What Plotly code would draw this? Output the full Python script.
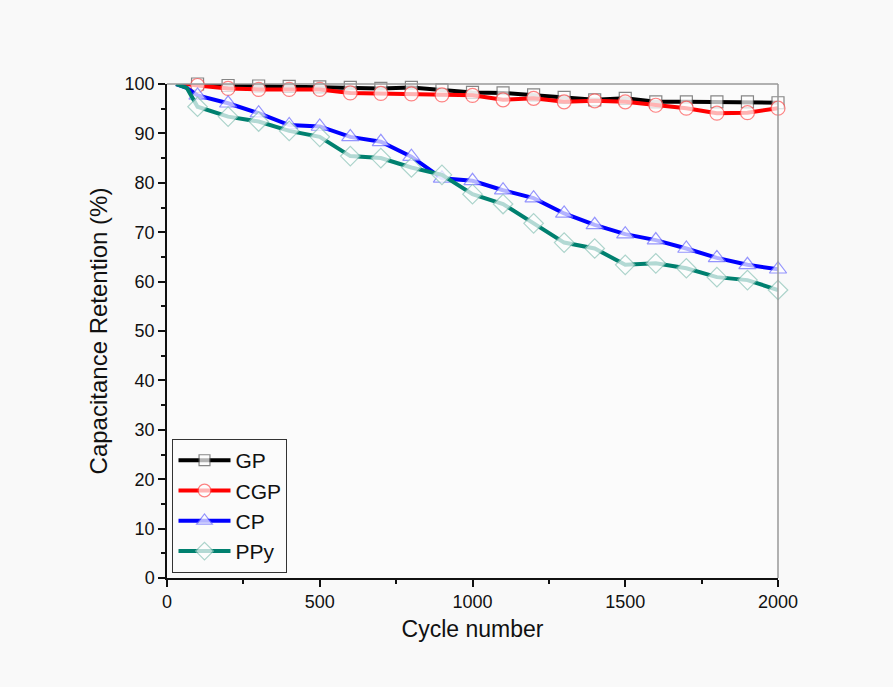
import plotly.graph_objects as go

# Cycle numbers (first two points are unmarked start-up readings)
cycles = [30, 65, 100, 200, 300, 400, 500, 600, 700, 800, 900, 1000,
          1100, 1200, 1300, 1400, 1500, 1600, 1700, 1800, 1900, 2000]

# Capacitance retention (%) for each electrode
gp = [100, 100, 100, 99.7, 99.6, 99.5, 99.4, 99.3, 99.1, 99.3, 98.8, 98.3,
      98.2, 97.8, 97.3, 96.8, 97.1, 96.4, 96.4, 96.4, 96.4, 96.2]
cgp = [100, 100, 99.7, 99.1, 98.9, 98.9, 98.9, 98.2, 98.1, 98.0, 97.8, 97.7,
       96.8, 97.1, 96.4, 96.6, 96.4, 95.7, 95.1, 94.1, 94.2, 95.1]
cp = [100, 99.2, 97.7, 96.1, 94.1, 91.7, 91.4, 89.3, 88.3, 85.3, 80.9, 80.4,
      78.5, 76.9, 73.8, 71.5, 69.6, 68.4, 66.7, 64.8, 63.4, 62.5]
ppy = [100, 99.2, 95.4, 93.4, 92.4, 90.5, 89.3, 85.4, 85.0, 83.1, 81.6, 77.7,
       75.7, 71.8, 67.9, 66.7, 63.4, 63.7, 62.7, 60.9, 60.3, 58.3]

names = ["GP", "CGP", "CP", "PPy"]
values = [gp, cgp, cp, ppy]
line_colors = ["#000000", "#ff0000", "#0000ff", "#00806f"]
marker_edges = ["#555555", "#ff5050", "#6a6aff", "#8cc4b8"]
symbols = ["square", "circle", "triangle-up", "diamond"]
marker_sizes = [12, 14, 15, 15]

x_ticks = [0, 500, 1000, 1500, 2000]
y_ticks = list(range(0, 101, 10))

fig = go.Figure()
for name, vals, lc, mc, sym, ms in zip(names, values, line_colors,
                                        marker_edges, symbols, marker_sizes):
    sizes = [0, 0] + [ms] * (len(cycles) - 2)
    fig.add_trace(go.Scatter(
        x=cycles, y=vals, name=name, mode="lines+markers",
        line=dict(color=lc, width=4),
        marker=dict(symbol=sym, size=sizes, color="#ffffff",
                    line=dict(color=mc, width=1.2)),
        cliponaxis=False,
    ))

FONT = "Liberation Sans, Arial"
axis_font = dict(family=FONT, size=18, color="#111111")

fig.update_layout(
    width=893, height=687,
    margin=dict(l=167, r=115, t=84, b=109),
    paper_bgcolor="#f9f9f9",
    plot_bgcolor="#fbfbfb",
    showlegend=True,
    legend=dict(
        x=0.009, y=0.01, xanchor="left", yanchor="bottom",
        bgcolor="rgba(0,0,0,0)", bordercolor="#333333", borderwidth=1,
        font=dict(family=FONT, size=21, color="#111111"),
        itemwidth=52, tracegroupgap=0,
    ),
    xaxis=dict(
        range=[0, 2000], tickvals=x_ticks, ticktext=[str(v) for v in x_ticks],
        ticks="outside", ticklen=7, tickwidth=1.5, tickcolor="#111111",
        minor=dict(dtick=250, tick0=0, ticks="outside", ticklen=4,
                   tickcolor="#111111", tickwidth=1.5),
        showline=True, linecolor="#111111", linewidth=1.5,
        showgrid=False, zeroline=False, tickfont=axis_font,
        title=dict(text="Cycle number", font=dict(family=FONT, size=23, color="#111111"),
                   standoff=10),
    ),
    yaxis=dict(
        range=[0, 100], tickvals=y_ticks, ticktext=[str(v) for v in y_ticks],
        ticks="outside", ticklen=7, tickwidth=1.5, tickcolor="#111111",
        minor=dict(dtick=5, tick0=0, ticks="outside", ticklen=4,
                   tickcolor="#111111", tickwidth=1.5),
        showline=True, linecolor="#111111", linewidth=1.5,
        showgrid=False, zeroline=False, tickfont=axis_font,
        title=dict(text="Capacitance Retention (%)",
                   font=dict(family=FONT, size=24, color="#111111"), standoff=10),
    ),
    shapes=[
        dict(type="line", xref="paper", yref="paper", x0=0, x1=1, y0=1, y1=1,
             line=dict(color="#999999", width=1.5)),
        dict(type="line", xref="paper", yref="paper", x0=1, x1=1, y0=0, y1=1,
             line=dict(color="#999999", width=1.5)),
    ],
)

fig.write_html("out.html")
